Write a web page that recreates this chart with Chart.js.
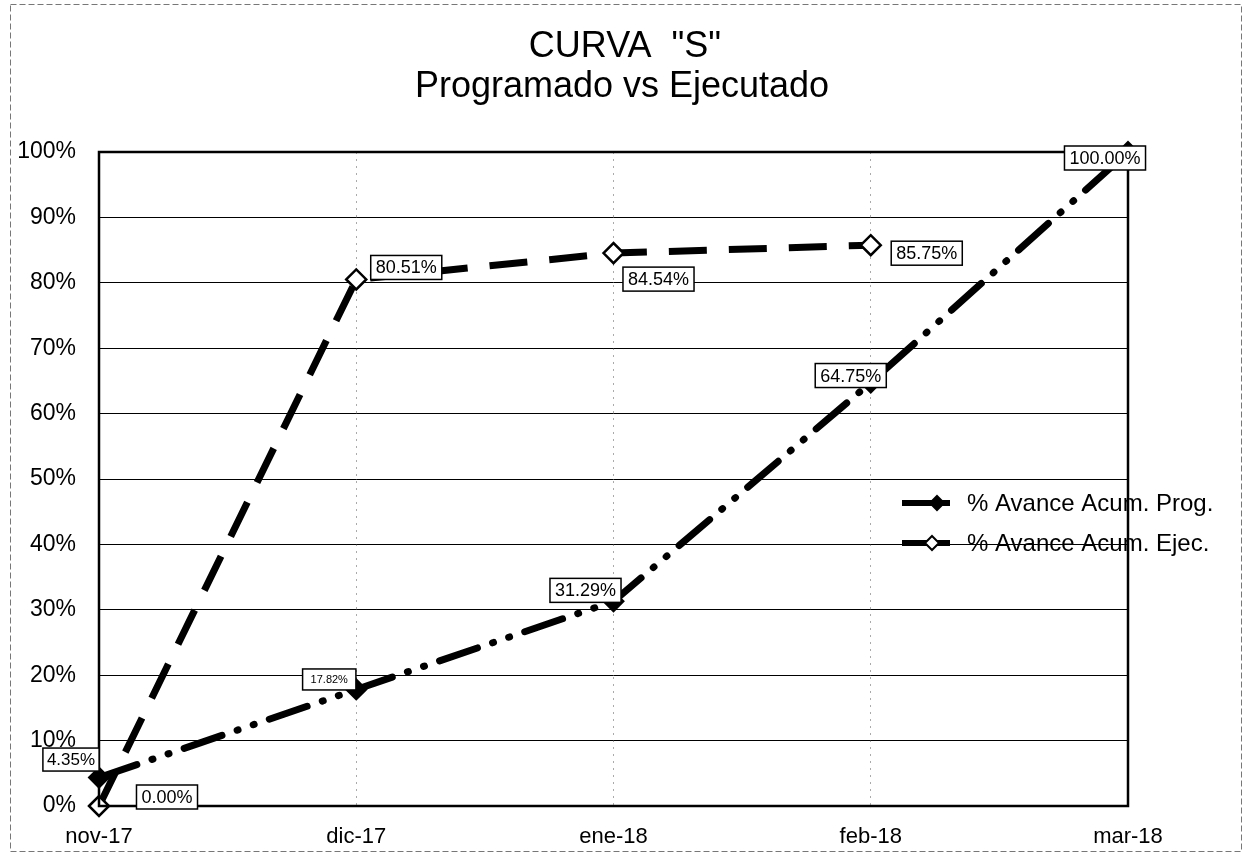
<!DOCTYPE html>
<html>
<head>
<meta charset="utf-8">
<script src="https://cdn.jsdelivr.net/npm/chart.js@4.4.1/dist/chart.umd.min.js"></script>
<style>
  html, body { margin: 0; padding: 0; background: #fff; }
  #wrap { width: 1244px; height: 854px; position: relative; }
</style>
</head>
<body>
<div id="wrap"><canvas id="c" width="1244" height="854"></canvas></div>
<script>
// ---- data ----
const categories = ['nov-17', 'dic-17', 'ene-18', 'feb-18', 'mar-18'];
const progValues = [4.35, 17.82, 31.29, 64.75, 100.00];
const ejecValues = [0.00, 80.51, 84.54, 85.75, null];
const seriesNames = ['% Avance Acum. Prog.', '% Avance Acum. Ejec.'];
const titleLines = ['CURVA  "S"', 'Programado vs Ejecutado'];

// label offsets (styling, relative to point pixel)
const progLabelOffsets = [[-28, -18], [-27, -10], [-28, -11], [-20, -7], [-23, 6]];
const ejecLabelOffsets = [[68, -9], [50, -12], [45, 26], [56, 8], [0, 0]];
const progLabelFonts = [17, 11, 18, 18, 18];
const progLabelPads = [4, 8, 5, 5, 5];

const FONT = 'Liberation Sans, Arial, sans-serif';

const framePlugin = {
  id: 'frame',
  beforeDraw(chart) {
    const ctx = chart.ctx;
    ctx.save();
    ctx.fillStyle = '#fff';
    ctx.fillRect(0, 0, chart.width, chart.height);
    ctx.setLineDash([6, 3]);
    ctx.strokeStyle = '#777';
    ctx.lineWidth = 1;
    ctx.strokeRect(10.5, 4.5, 1231, 847);
    // title
    ctx.setLineDash([]);
    ctx.fillStyle = '#000';
    ctx.font = '36px ' + FONT;
    ctx.textAlign = 'center';
    ctx.textBaseline = 'alphabetic';
    ctx.fillText(titleLines[0], chart.width / 2 + 3, 57);
    ctx.fillText(titleLines[1], chart.width / 2, 97);
    ctx.restore();
  },
  afterDatasetsDraw(chart) {
    const ctx = chart.ctx;
    const a = chart.chartArea;
    // legend
    ctx.save();
    const lx = a.right - 226, ly1 = 503, ly2 = 543;
    ctx.font = '24px ' + FONT;
    ctx.fillStyle = '#000';
    ctx.textBaseline = 'middle';
    ctx.textAlign = 'left';
    [[ly1, true, seriesNames[0]], [ly2, false, seriesNames[1]]].forEach(([y, filled, name]) => {
      ctx.strokeStyle = '#000';
      ctx.lineWidth = 6;
      ctx.setLineDash([]);
      ctx.beginPath(); ctx.moveTo(lx, y); ctx.lineTo(lx + 48, y); ctx.stroke();
      const cx = filled ? lx + 35 : lx + 30;
      const r = 7;
      ctx.beginPath();
      ctx.moveTo(cx, y - r); ctx.lineTo(cx + r, y); ctx.lineTo(cx, y + r); ctx.lineTo(cx - r, y); ctx.closePath();
      ctx.fillStyle = filled ? '#000' : '#fff';
      ctx.fill();
      ctx.lineWidth = 2;
      ctx.stroke();
      ctx.fillStyle = '#000';
      ctx.fillText(name, lx + 65, y + 1);
    });
    ctx.restore();

    // frame of plot area
    ctx.save();
    ctx.strokeStyle = '#000';
    ctx.lineWidth = 2.5;
    ctx.setLineDash([]);
    ctx.strokeRect(a.left, a.top, a.right - a.left, a.bottom - a.top);
    ctx.restore();

    // data labels
    ctx.save();
    const drawLabel = (text, x, y, size, pad) => {
      ctx.font = size + 'px ' + FONT;
      const w = ctx.measureText(text).width;
      const h = Math.max(size + 6, 21);
      const bx = x - w / 2 - pad, by = y - h / 2;
      ctx.fillStyle = '#fff';
      ctx.fillRect(bx, by, w + 2 * pad, h);
      ctx.strokeStyle = '#000';
      ctx.lineWidth = 1.5;
      ctx.strokeRect(bx, by, w + 2 * pad, h);
      ctx.fillStyle = '#000';
      ctx.textAlign = 'center';
      ctx.textBaseline = 'middle';
      ctx.fillText(text, x, y + 1);
    };
    const m0 = chart.getDatasetMeta(0), m1 = chart.getDatasetMeta(1);
    m0.data.forEach((p, i) => {
      const v = progValues[i];
      if (v == null) return;
      drawLabel(v.toFixed(2) + '%', p.x + progLabelOffsets[i][0], p.y + progLabelOffsets[i][1], progLabelFonts[i], progLabelPads[i]);
    });
    m1.data.forEach((p, i) => {
      const v = ejecValues[i];
      if (v == null) return;
      drawLabel(v.toFixed(2) + '%', p.x + ejecLabelOffsets[i][0], p.y + ejecLabelOffsets[i][1], 18, 5);
    });
    ctx.restore();
  }
};

new Chart(document.getElementById('c'), {
  type: 'line',
  data: {
    labels: categories,
    datasets: [
      {
        label: seriesNames[0],
        data: progValues,
        borderColor: '#000',
        backgroundColor: '#000',
        borderWidth: 7,
        borderDash: [40, 16, 1, 16, 1, 16],
        borderCapStyle: 'round',
        pointStyle: 'rectRot',
        pointRadius: 10,
        pointBorderWidth: 2,
        pointBackgroundColor: '#000',
        pointBorderColor: '#000',
        tension: 0,
        fill: false,
        clip: false
      },
      {
        label: seriesNames[1],
        data: ejecValues,
        borderColor: '#000',
        backgroundColor: '#fff',
        borderWidth: 7,
        borderDash: [38, 22],
        pointStyle: 'rectRot',
        pointRadius: 10,
        pointBorderWidth: 2.5,
        pointBackgroundColor: '#fff',
        pointBorderColor: '#000',
        tension: 0,
        fill: false,
        spanGaps: false,
        clip: false
      }
    ]
  },
  options: {
    responsive: false,
    animation: false,
    layout: { padding: { left: 0, right: 116, top: 152, bottom: 0 } },
    plugins: {
      legend: { display: false },
      tooltip: { enabled: false },
      title: { display: false }
    },
    scales: {
      x: {
        offset: false,
        grid: { display: true, color: '#aaa', lineWidth: 1, drawTicks: false },
        border: { display: false, dash: [2, 5] },
        ticks: { color: '#000', font: { family: FONT, size: 22 }, padding: 18, maxRotation: 0, autoSkip: false },
        afterFit(s) { s.height = 48; }
      },
      y: {
        min: 0, max: 100,
        grid: { color: '#000', lineWidth: 1, drawTicks: false },
        border: { display: false },
        ticks: {
          stepSize: 10, color: '#000', font: { family: FONT, size: 23 }, padding: 23,
          callback: v => v + '%'
        },
        afterFit(s) { s.width = 99; }
      }
    }
  },
  plugins: [framePlugin]
});
</script>
</body>
</html>
